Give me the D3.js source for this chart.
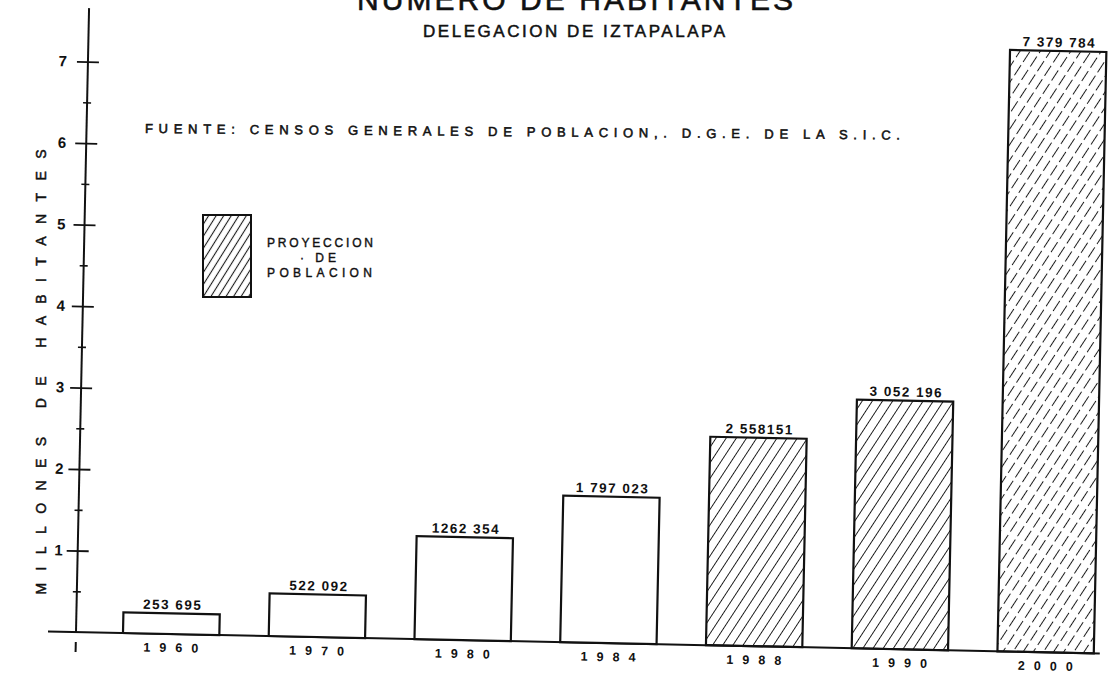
<!DOCTYPE html>
<html>
<head>
<meta charset="utf-8">
<script src="https://cdn.jsdelivr.net/npm/d3@7"></script>
<style>
body { margin: 0; background: #fff; }
svg { display: block; }
text { font-family: "Liberation Sans", Arial, sans-serif; fill: #111; }
</style>
</head>
<body>
<svg id="chart" width="1118" height="673"></svg>
<script>
var years = ["1960", "1970", "1980", "1984", "1988", "1990", "2000"];
var habitantes = [253695, 522092, 1262354, 1797023, 2558151, 3052196, 7379784];
var valueLabels = ["253 695", "522 092", "1262 354", "1 797 023", "2 558151", "3 052 196", "7 379 784"];
var proyeccion = [false, false, false, false, true, true, true];
var majorTicks = [1, 2, 3, 4, 5, 6, 7];
var minorTicks = [0.5, 1.5, 2.5, 3.5, 4.5, 5.5, 6.5];

var bars = years.map(function(y, i) {
    return {year: y, value: habitantes[i] / 1e6, label: valueLabels[i], proj: proyeccion[i]};
});

var svg = d3.select("#chart");
svg.append("rect").attr("width", 1118).attr("height", 673).attr("fill", "#fff");

var defs = svg.append("defs");
function hatch(id, w, dash, sw) {
    var p = defs.append("pattern")
        .attr("id", id)
        .attr("patternUnits", "userSpaceOnUse")
        .attr("width", w)
        .attr("height", 32)
        .attr("patternTransform", "rotate(32)");
    p.append("line")
        .attr("x1", w / 2).attr("x2", w / 2)
        .attr("y1", 0).attr("y2", 32)
        .attr("stroke", "#1a1a1a")
        .attr("stroke-width", sw)
        .attr("stroke-dasharray", dash);
}
hatch("hatch", 8.5, null, 1);
hatch("hatchLight", 8.5, "12 4", 1);
hatch("hatchLegend", 6.4, null, 1.1);

// the drawing in the scan is turned a little clockwise
var ox = 76, oy = 632;
var g = svg.append("g").attr("transform", "rotate(1.2," + ox + "," + oy + ")");

var x = d3.scaleBand().domain(years).range([123, 1094]).paddingInner(0.339).paddingOuter(0);
var y = d3.scaleLinear().domain([0, 7]).range([oy, oy - 7 * 81.5]);

g.append("line")
    .attr("x1", 48).attr("x2", 1100)
    .attr("y1", oy).attr("y2", oy)
    .attr("stroke", "#111").attr("stroke-width", 2);

g.append("line")
    .attr("x1", ox).attr("x2", ox)
    .attr("y1", 8).attr("y2", oy)
    .attr("stroke", "#111").attr("stroke-width", 2);

g.append("line")
    .attr("x1", ox).attr("x2", ox)
    .attr("y1", oy + 10).attr("y2", oy + 20)
    .attr("stroke", "#111").attr("stroke-width", 2);

var major = g.append("g")
    .attr("transform", "translate(" + (ox + 11) + ",0)")
    .call(d3.axisLeft(y).tickValues(majorTicks).tickSize(22).tickFormat(d3.format("d")));
major.select(".domain").remove();
major.selectAll(".tick line").attr("stroke", "#111").attr("stroke-width", 1.8);
major.selectAll(".tick text")
    .attr("x", function(d) { return -25 - d; })
    .style("font-family", "'Liberation Sans', Arial, sans-serif")
    .style("font-size", "15px")
    .style("font-weight", "bold")
    .attr("fill", "#111");

var minor = g.append("g")
    .attr("transform", "translate(" + (ox + 4) + ",0)")
    .call(d3.axisLeft(y).tickValues(minorTicks).tickSize(8).tickFormat(""));
minor.select(".domain").remove();
minor.selectAll(".tick line").attr("stroke", "#111").attr("stroke-width", 1.6);

g.selectAll("rect.bar")
    .data(bars)
    .join("rect")
    .classed("bar", true)
    .attr("x", function(d) { return x(d.year); })
    .attr("y", function(d) { return y(d.value); })
    .attr("width", x.bandwidth())
    .attr("height", function(d) { return oy - y(d.value); })
    .attr("fill", function(d) {
        if (!d.proj) return "#fff";
        return d.year == "2000" ? "url(#hatchLight)" : "url(#hatch)";
    })
    .attr("stroke", "#111")
    .attr("stroke-width", 2.2);

g.selectAll("text.value")
    .data(bars)
    .join("text")
    .classed("value", true)
    .attr("x", function(d) { return x(d.year) + x.bandwidth() / 2 + 1; })
    .attr("y", function(d) { return y(d.value) - 4; })
    .attr("text-anchor", "middle")
    .style("font-size", "13.5px")
    .style("font-weight", "bold")
    .style("letter-spacing", "1.5px")
    .text(function(d) { return d.label; });

g.selectAll("text.year")
    .data(bars)
    .join("text")
    .classed("year", true)
    .attr("x", function(d) { return x(d.year) + x.bandwidth() / 2 + 4.5; })
    .attr("y", oy + 18)
    .attr("text-anchor", "middle")
    .style("font-size", "12.5px")
    .style("font-weight", "bold")
    .style("letter-spacing", "9px")
    .text(function(d) { return d.year; });

svg.append("text")
    .attr("x", 575).attr("y", 10)
    .attr("text-anchor", "middle")
    .attr("textLength", 436).attr("lengthAdjust", "spacing")
    .style("font-size", "30px")
    .attr("stroke", "#111").attr("stroke-width", 0.6)
    .text("NUMERO DE HABITANTES");

svg.append("text")
    .attr("x", 574).attr("y", 37)
    .attr("text-anchor", "middle")
    .attr("textLength", 302).attr("lengthAdjust", "spacing")
    .style("font-size", "17px")
    .attr("stroke", "#111").attr("stroke-width", 0.5)
    .text("DELEGACION DE IZTAPALAPA");

svg.append("text")
    .attr("transform", "translate(145,133) rotate(0.5)")
    .attr("textLength", 755).attr("lengthAdjust", "spacing")
    .style("font-size", "13px")
    .attr("stroke", "#111").attr("stroke-width", 0.55)
    .text("FUENTE: CENSOS GENERALES DE POBLACION,. D.G.E. DE LA S.I.C.");

svg.append("text")
    .attr("transform", "translate(46,372) rotate(-90)")
    .attr("text-anchor", "middle")
    .attr("textLength", 445).attr("lengthAdjust", "spacing")
    .style("font-size", "14px")
    .attr("stroke", "#111").attr("stroke-width", 0.5)
    .text("MILLONES DE HABITANTES");

var legend = svg.append("g");
legend.append("rect")
    .attr("x", 203).attr("y", 215)
    .attr("width", 48).attr("height", 82)
    .attr("fill", "url(#hatchLegend)")
    .attr("stroke", "#111").attr("stroke-width", 2);
legend.append("text")
    .attr("x", 267).attr("y", 247)
    .attr("textLength", 106).attr("lengthAdjust", "spacing")
    .style("font-size", "12px")
    .attr("stroke", "#111").attr("stroke-width", 0.4)
    .text("PROYECCION");
legend.append("text")
    .attr("x", 320).attr("y", 262)
    .attr("text-anchor", "middle")
    .style("font-size", "12px")
    .attr("stroke", "#111").attr("stroke-width", 0.4)
    .style("letter-spacing", "4px")
    .text("· DE");
legend.append("text")
    .attr("x", 267).attr("y", 277)
    .attr("textLength", 105).attr("lengthAdjust", "spacing")
    .style("font-size", "12px")
    .attr("stroke", "#111").attr("stroke-width", 0.4)
    .text("POBLACION");
</script>
</body>
</html>
